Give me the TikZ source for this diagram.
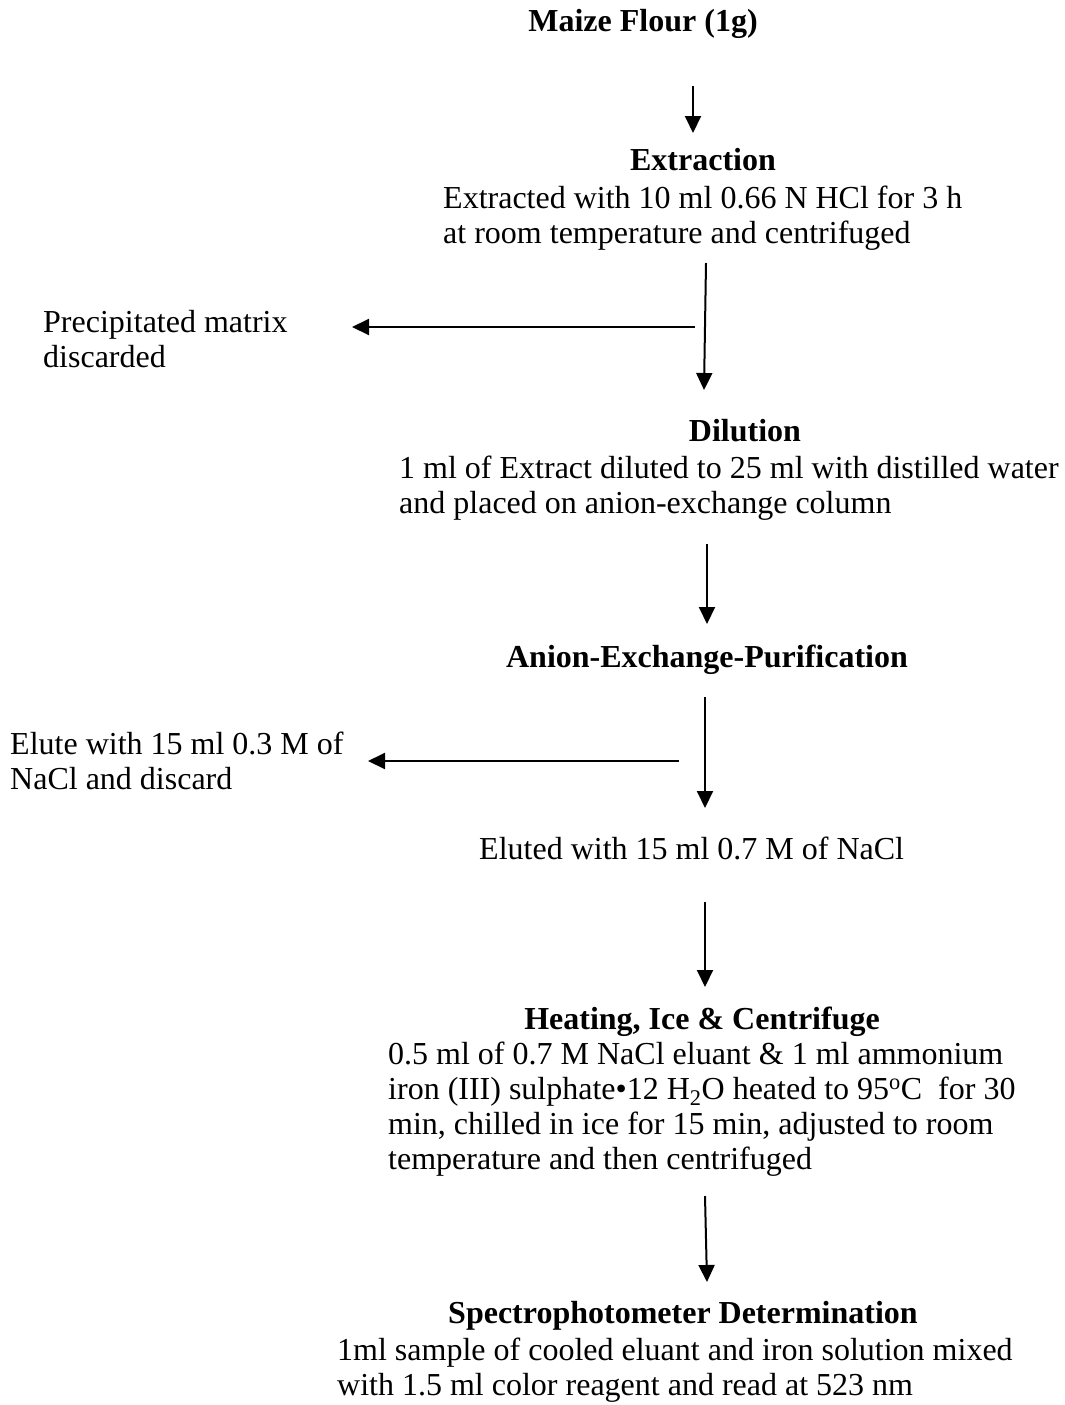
\documentclass[tikz,border=0pt]{standalone}
\usepackage{fontspec}
\setmainfont{Liberation Serif}
\usetikzlibrary{arrows.meta}
\tikzset{
  body/.style={inner sep=0pt, anchor=base west, font=\fontsize{32}{35}\selectfont},
  head/.style={inner sep=0pt, anchor=base, font=\fontsize{32}{35}\selectfont\bfseries},
  flow/.style={line width=2pt, -{Triangle[length=17pt,width=16pt]}}
}
\newcommand{\lines}[1]{\begin{tabular}[t]{@{}l@{}}#1\end{tabular}}
\begin{document}
\begin{tikzpicture}[x=1pt,y=-1pt]
\useasboundingbox (0,0) rectangle (1065,1405);
% headings and texts
\node[head] (maize) at (643,32) {Maize Flour (1g)};
\node[head] (extr) at (703,170) {Extraction};
\node[body] (extrtxt) at (443,208) {\lines{Extracted with 10 ml 0.66 N HCl for 3 h\\at room temperature and centrifuged}};
\node[body] (precip) at (43,332) {\lines{Precipitated matrix\\discarded}};
\node[head] (dil) at (745,441) {Dilution};
\node[body] (diltxt) at (399,478) {\lines{1 ml of Extract diluted to 25 ml with distilled water\\and placed on anion-exchange column}};
\node[head] (anion) at (707,667) {Anion-Exchange-Purification};
\node[body] (elute) at (10,754) {\lines{Elute with 15 ml 0.3 M of\\NaCl and discard}};
\node[body] (eluted) at (479,859) {Eluted with 15 ml 0.7 M of NaCl};
\node[head] (heat) at (702,1029) {Heating, Ice \& Centrifuge};
\node[body] (heattxt) at (388,1064) {\lines{0.5 ml of 0.7 M NaCl eluant \& 1 ml ammonium\\iron (III) sulphate\textbullet 12 H\textsubscript{2}O heated to 95\textsuperscript{o}C\ \ for 30\\min, chilled in ice for 15 min, adjusted to room\\temperature and then centrifuged}};
\node[head] (spec) at (683,1323) {Spectrophotometer Determination};
\node[body] (spectxt) at (337,1360) {\lines{1ml sample of cooled eluant and iron solution mixed\\with 1.5 ml color reagent and read at 523 nm}};
% arrow end points
\coordinate (a1s) at (693,86);  \coordinate (a1e) at (693,133);
\coordinate (a2s) at (706,263); \coordinate (a2e) at (704,390);
\coordinate (b1s) at (695,327); \coordinate (b1e) at (352,327);
\coordinate (a3s) at (707,544); \coordinate (a3e) at (707,624);
\coordinate (a4s) at (705,697); \coordinate (a4e) at (705,808);
\coordinate (b2s) at (679,761); \coordinate (b2e) at (368,761);
\coordinate (a5s) at (705,902); \coordinate (a5e) at (705,987);
\coordinate (a6s) at (705,1196); \coordinate (a6e) at (707,1282);
\draw[flow] (a1s) -- (a1e);
\draw[flow] (a2s) -- (a2e);
\draw[flow] (b1s) -- (b1e);
\draw[flow] (a3s) -- (a3e);
\draw[flow] (a4s) -- (a4e);
\draw[flow] (b2s) -- (b2e);
\draw[flow] (a5s) -- (a5e);
\draw[flow] (a6s) -- (a6e);
\end{tikzpicture}
\end{document}
